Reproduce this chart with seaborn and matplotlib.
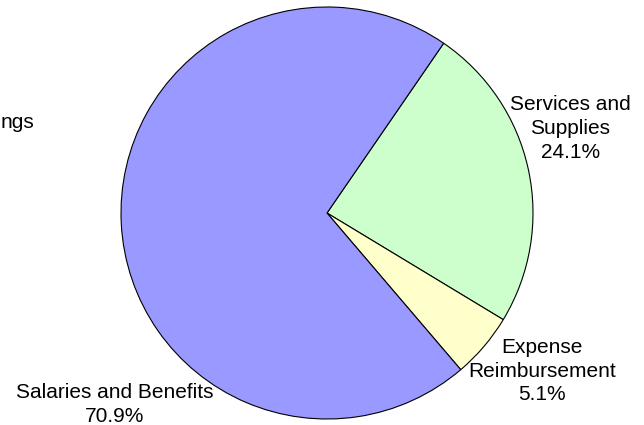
import matplotlib
matplotlib.use("Agg")
import matplotlib.pyplot as plt
import seaborn as sns

categories = ["Services and\nSupplies", "Expense\nReimbursement", "Salaries and Benefits"]
values = [24.1, 5.1, 70.9]
pct_labels = ["24.1%", "5.1%", "70.9%"]
colors = ["#CCFFCC", "#FFFFCC", "#9999FF"]

sns.set_theme(style="white")
plt.rcParams['font.family'] = ['Liberation Sans', 'DejaVu Sans']

W, H = 644, 425
fig = plt.figure(figsize=(W / 100, H / 100), dpi=100)
cx, cy, r = 327, 213, 206
ax = fig.add_axes([(cx - r) / W, (H - cy - r) / H, 2 * r / W, 2 * r / H])

ax.pie(values, colors=colors, startangle=55.5, counterclock=False,
       wedgeprops=dict(edgecolor="black", linewidth=0.8))
ax.set_xlim(-1, 1)
ax.set_ylim(-1, 1)
ax.set_aspect("equal")
ax.axis("off")

label_pos = [(1.18, 0.41), (1.044, -0.767), (-1.029, -0.93)]
for cat, pct, (x, y) in zip(categories, pct_labels, label_pos):
    ax.text(x, y, f"{cat}\n{pct}", ha="center", va="center", fontsize=15,
            color="black", linespacing=1.32, clip_on=False)

ax.text(-1.422, 0.437, "ngs", ha="right", va="center", fontsize=15,
        color="black", clip_on=False)

fig.savefig("out.png", dpi=100, facecolor="white")
